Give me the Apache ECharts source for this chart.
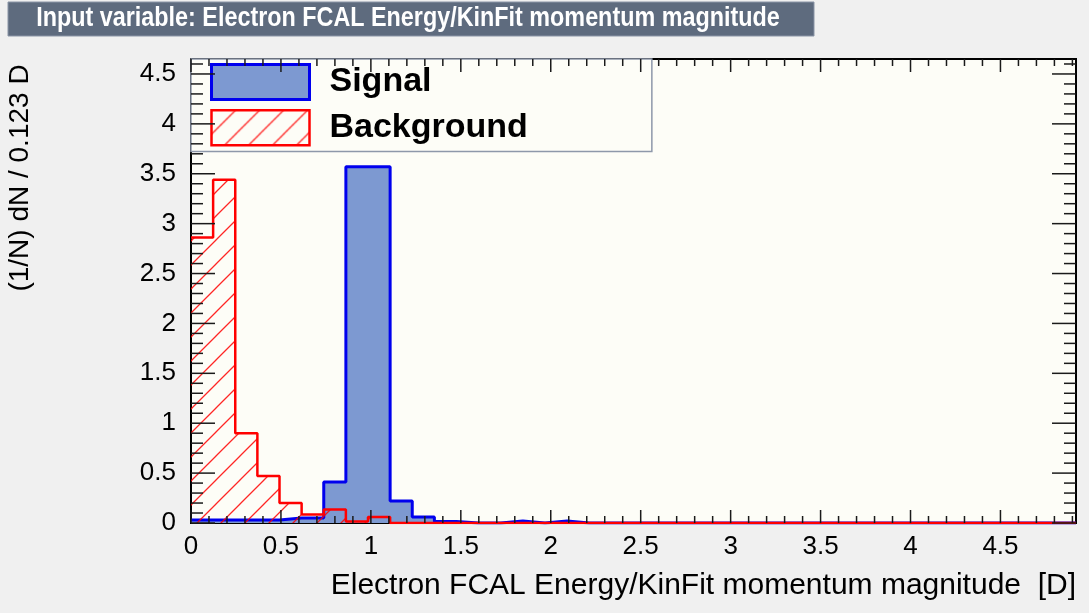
<!DOCTYPE html>
<html>
<head>
<meta charset="utf-8">
<script src="https://cdn.jsdelivr.net/npm/echarts@6/dist/echarts.min.js"></script>
<style>
  html, body { margin: 0; padding: 0; background: #f0f0f0; }
  #chart { width: 1089px; height: 613px; }
</style>
</head>
<body>
<div id="chart"></div>
<script>
// Histogram binning: 40 bins of width 0.123 starting at 0
const BIN_WIDTH = 0.123;
const X_MIN = 0;
const X_MAX = 4.92;
const Y_MIN = 0;
const Y_MAX = 4.65;
const X_MAJOR = 0.5;
const Y_MAJOR = 0.5;
const MINOR_STEP = 0.1;

// Normalised entries per bin, (1/N) dN / 0.123
const signalValues = [
  0.03, 0.03, 0.03, 0.03, 0.05, 0.05, 0.41, 3.57, 3.57, 0.22,
  0.06, 0.015, 0, 0, 0.02, 0, 0.02, 0, 0, 0,
  0, 0, 0, 0, 0, 0, 0, 0, 0, 0,
  0, 0, 0, 0, 0, 0, 0, 0, 0, 0
];
const backgroundValues = [
  2.86, 3.44, 0.90, 0.47, 0.20, 0.085, 0.135, 0.015, 0.06, 0,
  0, 0, 0, 0, 0, 0, 0, 0, 0, 0,
  0, 0, 0, 0, 0, 0, 0, 0, 0, 0,
  0, 0, 0, 0, 0, 0, 0, 0, 0, 0
];

const seriesNames = ['Signal', 'Background'];
const TITLE = 'Input variable: Electron FCAL Energy/KinFit momentum magnitude';
const X_TITLE = 'Electron FCAL Energy/KinFit momentum magnitude  [D]';
const Y_TITLE = '(1/N) dN / 0.123 D';

const SIGNAL_FILL = '#7d99d1';
const SIGNAL_LINE = '#0000ee';
const BACKGROUND_LINE = '#ff0000';
const FONT = 'Liberation Sans';

// Diagonal "/" hatching used for the background histogram
function makeHatch(color, period, width) {
  const c = document.createElement('canvas');
  c.width = period; c.height = period;
  const g = c.getContext('2d');
  g.strokeStyle = color;
  g.lineWidth = width;
  g.beginPath();
  g.moveTo(0, period); g.lineTo(period, 0);
  g.moveTo(-2, 2); g.lineTo(2, -2);
  g.moveTo(period - 2, period + 2); g.lineTo(period + 2, period - 2);
  g.stroke();
  return { image: c, repeat: 'repeat' };
}
const hatch = makeHatch('rgba(255,0,0,0.85)', 24, 1.3);

// Bin contents -> step outline points at the bin edges
function histPoints(values) {
  const pts = values.map((v, i) => [X_MIN + i * BIN_WIDTH, v]);
  pts.push([X_MIN + values.length * BIN_WIDTH, values[values.length - 1]]);
  return pts;
}

const baseGraphic = [
  {
    id: 'titleBox', type: 'rect', x: 8, y: 2, shape: { width: 806, height: 34 },
    style: { fill: '#5e6b7e', stroke: '#8a95a6', lineWidth: 1 }
  },
  {
    id: 'titleText', type: 'text', x: 408, y: 19, scaleX: 0.865,
    style: { text: TITLE, fill: '#ffffff', font: 'bold 27px "Liberation Sans"', align: 'center', verticalAlign: 'middle' }
  },
  {
    id: 'yTitle', type: 'text', x: 20, y: 178, rotation: Math.PI / 2,
    style: { text: Y_TITLE, fill: '#000000', font: '28px "Liberation Sans"', align: 'center', verticalAlign: 'middle' }
  }
];

const chart = echarts.init(document.getElementById('chart'), null, { renderer: 'canvas' });
chart.setOption({
  backgroundColor: '#f0f0f0',
  animation: false,
  grid: {
    left: 191, top: 59, right: 13, bottom: 90,
    show: true, backgroundColor: '#fdfdf7', borderColor: '#000', borderWidth: 2,
    outerBoundsMode: 'none'
  },
  xAxis: {
    type: 'value', min: X_MIN, max: X_MAX, interval: X_MAJOR, position: 'bottom',
    axisLine: { show: false, onZero: false }, splitLine: { show: false }, axisTick: { show: false },
    axisLabel: { fontFamily: FONT, fontSize: 26, color: '#000', margin: 11, showMaxLabel: false },
    name: X_TITLE, nameLocation: 'end', nameGap: 0,
    nameTextStyle: { fontFamily: FONT, fontSize: 30, color: '#000', align: 'right', verticalAlign: 'top', padding: [48, 0, 0, 0] }
  },
  yAxis: {
    type: 'value', min: Y_MIN, max: Y_MAX, interval: Y_MAJOR, position: 'left',
    axisLine: { show: false, onZero: false }, splitLine: { show: false }, axisTick: { show: false },
    axisLabel: { fontFamily: FONT, fontSize: 26, color: '#000', margin: 15, showMaxLabel: false }
  },
  legend: {
    orient: 'vertical', left: 191, top: 59,
    padding: [4, 124, 5, 19],
    itemWidth: 98, itemHeight: 35, itemGap: 8,
    backgroundColor: '#fdfdf7', borderColor: '#8e98aa', borderWidth: 1.5,
    selectedMode: false,
    textStyle: { fontFamily: FONT, fontWeight: 'bold', fontSize: 34, color: '#000', padding: [0, 0, 0, 15] },
    data: [
      { name: seriesNames[0], icon: 'rect', itemStyle: { color: SIGNAL_FILL, borderColor: SIGNAL_LINE, borderWidth: 3 } },
      { name: seriesNames[1], icon: 'rect', itemStyle: { color: hatch, borderColor: BACKGROUND_LINE, borderWidth: 2.5 } }
    ]
  },
  graphic: { elements: baseGraphic },
  series: [
    {
      name: seriesNames[0], type: 'line', step: 'end', symbol: 'none',
      data: histPoints(signalValues),
      lineStyle: { color: SIGNAL_LINE, width: 3 },
      itemStyle: { color: SIGNAL_FILL },
      areaStyle: { color: SIGNAL_FILL, opacity: 1 },
      z: 2
    },
    {
      name: seriesNames[1], type: 'line', step: 'end', symbol: 'none',
      data: histPoints(backgroundValues),
      lineStyle: { color: BACKGROUND_LINE, width: 2.5 },
      itemStyle: { color: BACKGROUND_LINE },
      areaStyle: { color: hatch, opacity: 1 },
      z: 3
    }
  ]
});

// Frame ticks on all four sides, pointing inward.
// Tick positions along each axis come from the axis scales; the frame edges from the grid rectangle.
const TICK = { xMajor: 13, xMinor: 7, yMajor: 24, yMinor: 12 };
function xPx(v) { return chart.convertToPixel({ xAxisIndex: 0 }, v); }
function yPx(v) { return chart.convertToPixel({ yAxisIndex: 0 }, v); }

let frame = null;
try {
  const rect = chart.getModel().getComponent('grid', 0).coordinateSystem.getRect();
  frame = { left: rect.x, right: rect.x + rect.width, top: rect.y, bottom: rect.y + rect.height };
} catch (e) {
  frame = null;
}
if (!frame) {
  frame = { left: xPx(X_MIN), right: xPx(X_MAX), top: yPx(Y_MAX), bottom: yPx(Y_MIN) };
}

function tickSeg(x1, y1, x2, y2) {
  return {
    type: 'line', silent: true, z: 20,
    shape: { x1: x1, y1: y1, x2: x2, y2: y2 },
    style: { stroke: '#1a1a1a', lineWidth: 1.5 }
  };
}
const ticks = [];
const perMajorX = Math.round(X_MAJOR / MINOR_STEP);
for (let k = 0; k * MINOR_STEP <= X_MAX + 1e-9; k++) {
  const v = +(X_MIN + k * MINOR_STEP).toFixed(4);
  const len = (k % perMajorX === 0) ? TICK.xMajor : TICK.xMinor;
  const x = k === 0 ? frame.left : xPx(v);
  ticks.push(tickSeg(x, frame.bottom, x, frame.bottom - len));
  ticks.push(tickSeg(x, frame.top, x, frame.top + len));
}
const perMajorY = Math.round(Y_MAJOR / MINOR_STEP);
for (let k = 0; k * MINOR_STEP <= Y_MAX + 1e-9; k++) {
  const v = +(Y_MIN + k * MINOR_STEP).toFixed(4);
  const len = (k % perMajorY === 0) ? TICK.yMajor : TICK.yMinor;
  const y = k === 0 ? frame.bottom : yPx(v);
  ticks.push(tickSeg(frame.left, y, frame.left + len, y));
  ticks.push(tickSeg(frame.right, y, frame.right - len, y));
}
chart.setOption({ graphic: { elements: baseGraphic.concat(ticks) } });
</script>
</body>
</html>
